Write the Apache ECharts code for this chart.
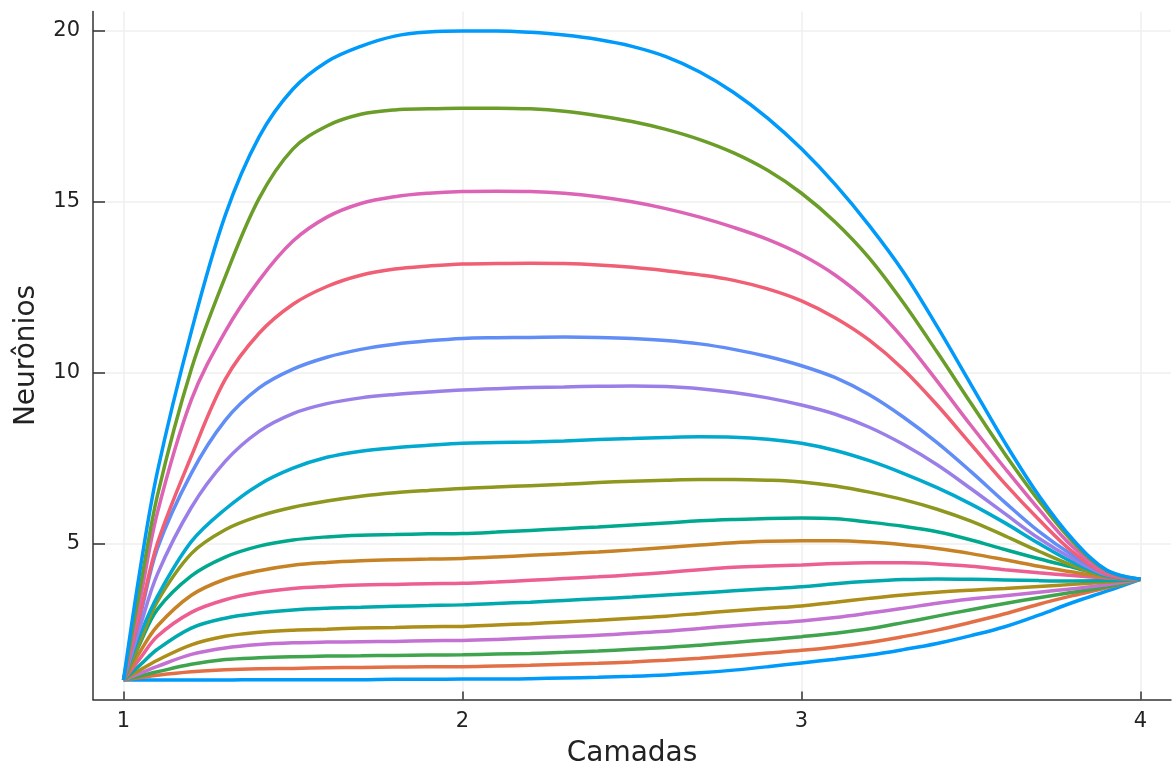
<!DOCTYPE html>
<html>
<head>
<meta charset="utf-8">
<script src="https://cdn.jsdelivr.net/npm/echarts@6/dist/echarts.min.js"></script>
<style>
  html, body { margin: 0; padding: 0; background: #fff; }
  #chart { width: 1173px; height: 776px; }
</style>
</head>
<body>
<div id="chart"></div>
<script>
// layer positions sampled along x (Camadas)
const camadas = [1, 1.05, 1.1, 1.2, 1.3, 1.4, 1.5, 1.6, 1.7, 1.8, 1.9, 2.0, 2.1, 2.2, 2.3, 2.4, 2.5, 2.6, 2.7, 2.8, 2.9, 3.0, 3.1, 3.2, 3.3, 3.4, 3.5, 3.6, 3.7, 3.8, 3.9, 4.0]

// neuron counts, bottom curve first
const n01 = [1.0, 1.0, 1.0, 1.0, 1.0, 1.01, 1.01, 1.01, 1.01, 1.02, 1.02, 1.03, 1.03, 1.04, 1.06, 1.08, 1.11, 1.15, 1.21, 1.29, 1.39, 1.5, 1.61, 1.73, 1.89, 2.07, 2.3, 2.56, 2.9, 3.27, 3.6, 3.95]
const n02 = [1.0, 1.07, 1.14, 1.24, 1.3, 1.33, 1.34, 1.36, 1.37, 1.38, 1.39, 1.39, 1.41, 1.43, 1.46, 1.49, 1.53, 1.58, 1.64, 1.71, 1.79, 1.87, 1.97, 2.1, 2.27, 2.46, 2.69, 2.94, 3.22, 3.47, 3.7, 3.95]
const n03 = [1.0, 1.12, 1.24, 1.46, 1.6, 1.65, 1.68, 1.7, 1.71, 1.72, 1.73, 1.74, 1.76, 1.78, 1.81, 1.85, 1.9, 1.95, 2.02, 2.1, 2.18, 2.27, 2.37, 2.5, 2.68, 2.87, 3.06, 3.24, 3.41, 3.57, 3.73, 3.95]
const n04 = [1.0, 1.2, 1.4, 1.75, 1.94, 2.04, 2.09, 2.11, 2.12, 2.13, 2.15, 2.16, 2.19, 2.23, 2.27, 2.31, 2.37, 2.43, 2.51, 2.59, 2.66, 2.73, 2.83, 2.96, 3.1, 3.25, 3.37, 3.47, 3.57, 3.67, 3.79, 3.95]
const n05 = [1.0, 1.3, 1.58, 2.03, 2.28, 2.4, 2.46, 2.49, 2.52, 2.54, 2.56, 2.57, 2.61, 2.65, 2.7, 2.75, 2.81, 2.87, 2.95, 3.03, 3.1, 3.17, 3.28, 3.39, 3.49, 3.57, 3.63, 3.68, 3.74, 3.8, 3.87, 3.95]
const n06 = [1.0, 1.45, 1.9, 2.52, 2.81, 2.96, 3.05, 3.1, 3.13, 3.16, 3.18, 3.2, 3.24, 3.28, 3.33, 3.38, 3.43, 3.49, 3.55, 3.61, 3.67, 3.73, 3.82, 3.89, 3.94, 3.96, 3.95, 3.93, 3.91, 3.9, 3.91, 3.95]
const n07 = [1.0, 1.65, 2.28, 2.98, 3.35, 3.56, 3.68, 3.74, 3.78, 3.8, 3.82, 3.83, 3.87, 3.92, 3.97, 4.02, 4.08, 4.15, 4.23, 4.3, 4.34, 4.37, 4.41, 4.43, 4.43, 4.4, 4.33, 4.23, 4.14, 4.06, 3.99, 3.95]
const n08 = [1.0, 1.85, 2.58, 3.48, 3.95, 4.2, 4.36, 4.44, 4.49, 4.52, 4.54, 4.56, 4.6, 4.65, 4.7, 4.75, 4.81, 4.88, 4.95, 5.02, 5.06, 5.08, 5.08, 5.04, 4.96, 4.85, 4.7, 4.52, 4.33, 4.16, 4.02, 3.95]
const n09 = [1.0, 2.1, 3.07, 4.05, 4.6, 4.92, 5.1, 5.19, 5.24, 5.26, 5.28, 5.29, 5.33, 5.38, 5.43, 5.48, 5.54, 5.6, 5.66, 5.7, 5.73, 5.74, 5.72, 5.62, 5.5, 5.34, 5.1, 4.82, 4.55, 4.3, 4.05, 3.95]
const n10 = [1.0, 2.15, 3.3, 4.7, 5.4, 5.8, 6.06, 6.24, 6.38, 6.48, 6.55, 6.61, 6.65, 6.69, 6.73, 6.78, 6.82, 6.85, 6.87, 6.87, 6.85, 6.8, 6.68, 6.5, 6.28, 6.0, 5.65, 5.22, 4.77, 4.35, 4.03, 3.95]
const n11 = [1.0, 2.35, 3.45, 5.05, 6.0, 6.72, 7.2, 7.52, 7.7, 7.8, 7.87, 7.93, 7.95, 7.97, 8.0, 8.04, 8.07, 8.1, 8.12, 8.11, 8.05, 7.93, 7.72, 7.42, 7.05, 6.63, 6.15, 5.6, 5.0, 4.45, 4.05, 3.95]
const n12 = [1.0, 2.6, 4.1, 6.05, 7.4, 8.28, 8.8, 9.09, 9.26, 9.36, 9.43, 9.49, 9.53, 9.56, 9.58, 9.6, 9.61, 9.59, 9.53, 9.42, 9.26, 9.05, 8.78, 8.4, 7.9, 7.3, 6.6, 5.87, 5.15, 4.55, 4.08, 3.95]
const n13 = [1.0, 2.9, 4.85, 7.05, 8.6, 9.55, 10.1, 10.45, 10.68, 10.83, 10.93, 11.0, 11.02, 11.03, 11.04, 11.03, 11.0, 10.94, 10.84, 10.68, 10.47, 10.2, 9.85, 9.35, 8.7, 7.95, 7.1, 6.2, 5.35, 4.65, 4.1, 3.95]
const n14 = [1.0, 3.0, 5.0, 7.55, 9.8, 11.15, 12.0, 12.52, 12.85, 13.03, 13.12, 13.18, 13.19, 13.2, 13.19, 13.15, 13.08, 12.98, 12.86, 12.7, 12.45, 12.1, 11.6, 10.95, 10.1, 9.05, 7.9, 6.75, 5.7, 4.75, 4.1, 3.95]
const n15 = [1.0, 3.4, 5.9, 9.2, 11.2, 12.7, 13.85, 14.55, 14.95, 15.15, 15.25, 15.3, 15.31, 15.3, 15.25, 15.15, 15.0, 14.8, 14.55, 14.25, 13.9, 13.45, 12.85, 12.05, 11.0, 9.75, 8.45, 7.2, 6.0, 4.9, 4.15, 3.95]
const n16 = [1.0, 3.75, 6.4, 10.1, 12.8, 15.1, 16.55, 17.22, 17.56, 17.69, 17.72, 17.74, 17.74, 17.72, 17.65, 17.52, 17.35, 17.12, 16.82, 16.43, 15.92, 15.25, 14.4, 13.35, 12.05, 10.6, 9.1, 7.62, 6.25, 5.05, 4.2, 3.95]
const n17 = [1.0, 4.3, 7.1, 11.2, 14.6, 16.9, 18.3, 19.1, 19.55, 19.85, 19.97, 20.0, 20.0, 19.96, 19.88, 19.75, 19.55, 19.25, 18.8, 18.2, 17.45, 16.55, 15.5, 14.3, 12.95, 11.35, 9.65, 7.95, 6.4, 5.12, 4.22, 3.95]

const xTicks = [1, 2, 3, 4]
const yTicks = [5, 10, 15, 20]

// Plots.jl default palette
const palette = [
  '#009AFA', '#E36F47', '#3EA44E', '#C371D2', '#AC8E18', '#00A9AD',
  '#ED5E93', '#C68225', '#00A98D', '#8E971E', '#00A9CD', '#9B7FE9',
  '#618DF6', '#F05F73', '#DD64B5', '#6B9D29', '#009AFA'
]

const allCurves = [n01, n02, n03, n04, n05, n06, n07, n08, n09, n10, n11, n12, n13, n14, n15, n16, n17]

const font = 'DejaVu Sans'
const chart = echarts.init(document.getElementById('chart'), null, { renderer: 'canvas' })

function axisCommon(ticks, tickLen) {
  return {
    type: 'value',
    axisLine: { show: true, onZero: false, lineStyle: { color: '#333', width: 1.5 } },
    axisTick: { show: true, inside: true, length: tickLen, customValues: ticks, lineStyle: { color: '#333', width: 1.5 } },
    axisLabel: { customValues: ticks, color: '#222', fontFamily: font, fontSize: 21 },
    splitLine: { show: true, lineStyle: { color: '#efefef', width: 1.5 } },
    nameLocation: 'middle',
    nameTextStyle: { color: '#222', fontFamily: font, fontSize: 28 }
  }
}

const xAxis = axisCommon(xTicks, 8)
Object.assign(xAxis, { min: 0.91, max: 4.09, name: 'Camadas', nameGap: 40 })
xAxis.axisLabel.margin = 12

const yAxis = axisCommon(yTicks, 12)
Object.assign(yAxis, { min: 0.43, max: 20.57, name: 'Neurônios', nameGap: 52 })
yAxis.axisLabel.margin = 13

chart.setOption({
  animation: false,
  grid: { left: 93, right: 2, top: 11.5, bottom: 76.5 },
  xAxis: xAxis,
  yAxis: yAxis,
  series: allCurves.map((curve, i) => ({
    type: 'line',
    data: camadas.map((x, j) => [x, curve[j]]),
    showSymbol: false,
    smooth: 0.35,
    lineStyle: { color: palette[i], width: 3.5 },
    itemStyle: { color: palette[i] }
  }))
})
</script>
</body>
</html>
